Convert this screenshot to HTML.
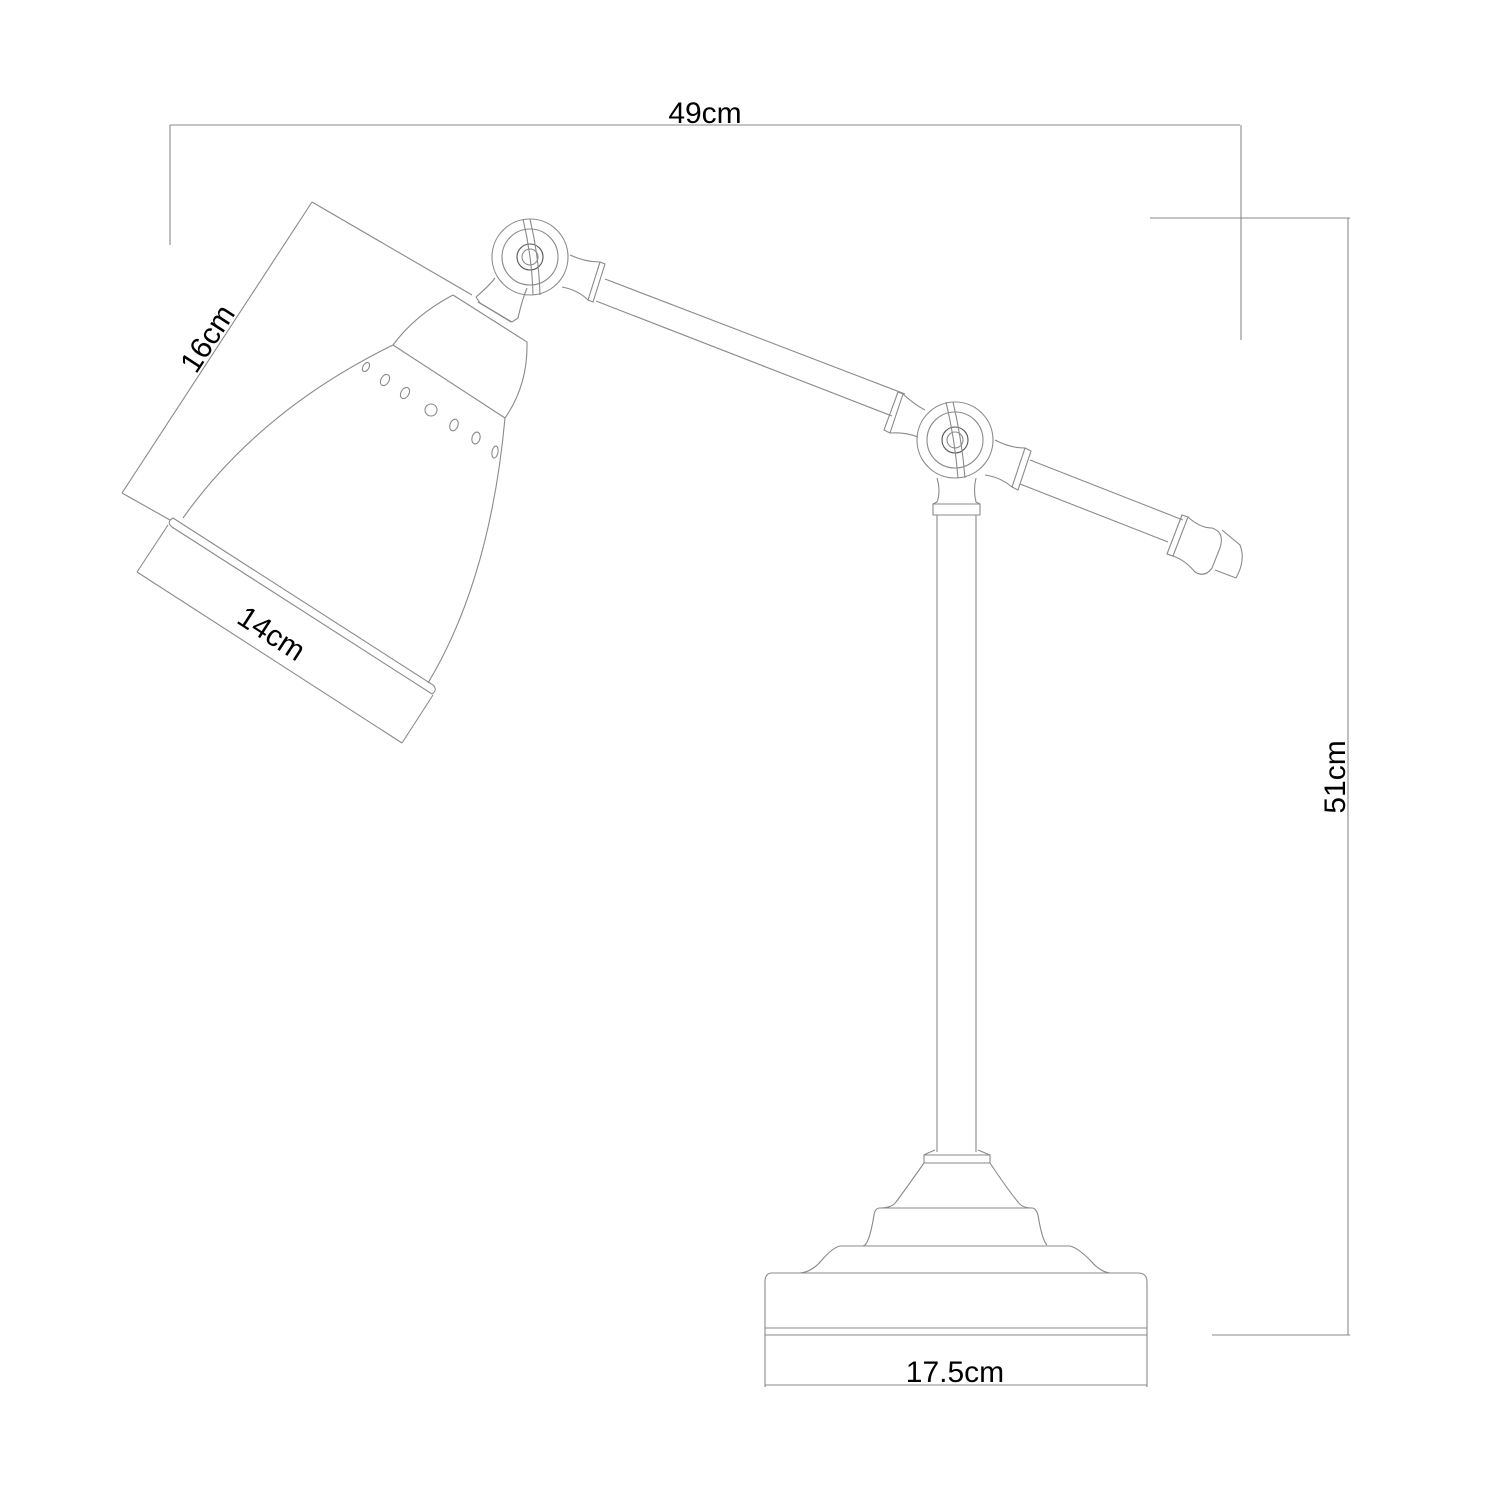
<!DOCTYPE html>
<html><head><meta charset="utf-8"><style>html,body{margin:0;padding:0;background:#fff}svg{display:block}</style></head>
<body>
<svg width="1500" height="1500" viewBox="0 0 1500 1500" xmlns="http://www.w3.org/2000/svg">
<g fill="none" stroke="#8a8a8a" stroke-width="1.1">
<line x1="170" y1="125" x2="1240" y2="125"/>
<line x1="170" y1="125" x2="170" y2="245"/>
<line x1="1241" y1="125" x2="1241" y2="340"/>
<line x1="1150" y1="218" x2="1350" y2="218"/>
<line x1="1348" y1="218" x2="1348" y2="1335"/>
<line x1="1212" y1="1335" x2="1350" y2="1335"/>
<line x1="765" y1="1385" x2="1147" y2="1385"/>
<line x1="765" y1="1335" x2="765" y2="1387"/>
<line x1="1147" y1="1335" x2="1147" y2="1387"/>
<line x1="312" y1="202" x2="122" y2="493"/>
<line x1="312" y1="202" x2="472" y2="295"/>
<line x1="122" y1="493" x2="170" y2="520"/>
<line x1="137" y1="572" x2="402" y2="743"/>
<line x1="137" y1="572" x2="168" y2="525"/>
<line x1="402" y1="743" x2="433" y2="695"/>

<path d="M453,295 Q415,315 393,345 Q260,410 183,518"/>
<path d="M453,295 L527,342 Q528,385 505,418 Q490,580 428,683"/>
<line x1="393" y1="345" x2="505" y2="418"/>
<path d="M173,518 L433,685 Q438,690 432,694 L172,527 Q166,522 173,518 Z"/>
<ellipse cx="366" cy="367" rx="3" ry="5" transform="rotate(30 366 367)"/>
<ellipse cx="385" cy="380" rx="4" ry="6" transform="rotate(30 385 380)"/>
<ellipse cx="405" cy="393" rx="4" ry="6" transform="rotate(30 405 393)"/>
<ellipse cx="431" cy="410" rx="6" ry="6"/>
<ellipse cx="454" cy="425" rx="4" ry="6" transform="rotate(20 454 425)"/>
<ellipse cx="476" cy="438" rx="4" ry="6" transform="rotate(15 476 438)"/>
<ellipse cx="495" cy="452" rx="3" ry="6" transform="rotate(10 495 452)"/>

<path d="M476,297 L480,303 L512,322 L518,318 Q522,300 527,288"/>
<path d="M476,297 Q490,285 495,278"/>
<line x1="478" y1="302" x2="511" y2="322"/>

<circle cx="530" cy="257" r="38"/>
<circle cx="530" cy="257" r="28"/>
<circle cx="530" cy="257" r="13" stroke="#555"/>
<circle cx="530" cy="257" r="8"/>
<path d="M523,219 Q532,257 533,295"/>
<path d="M530,219 Q539,257 540,295"/>

<path d="M570,255 Q585,262 600,262 L588,300 Q578,290 562,287"/>
<path d="M600,262 L605,264 L593,302 L588,300"/>
<line x1="605" y1="279" x2="905" y2="394"/>
<line x1="596" y1="301" x2="892" y2="416"/>
<path d="M898,392 L903,394 L890,433 L884,430 Z"/>
<path d="M903,394 Q915,405 925,410 M890,433 Q905,432 918,437"/>

<circle cx="955" cy="440" r="38"/>
<circle cx="955" cy="440" r="28"/>
<circle cx="955" cy="440" r="13" stroke="#555"/>
<circle cx="955" cy="440" r="8"/>
<path d="M946,402 Q955,440 958,478"/>
<path d="M953,402 Q962,440 965,478"/>

<path d="M995,440 Q1010,448 1025,448 L1012,487 Q1000,477 985,475"/>
<path d="M1025,448 L1031,451 L1018,490 L1012,487"/>
<line x1="1030" y1="460" x2="1183" y2="520"/>
<line x1="1020" y1="484" x2="1168" y2="542"/>
<path d="M1182,515 L1188,517 L1173,556 L1167,554 Z"/>
<path d="M1188,517 Q1200,528 1212,528 Q1225,532 1220,548 L1212,568 Q1205,578 1195,572 Q1185,560 1173,556"/>
<path d="M1222,530 L1240,545 Q1246,560 1236,578 L1215,570"/>

<path d="M937,478 Q941,492 937,502 L933,504 L933,515 L980,515 L980,504 L976,502 Q973,490 976,478"/>
<line x1="933" y1="504" x2="980" y2="504"/>
<line x1="937" y1="515" x2="937" y2="1152"/>
<line x1="976" y1="515" x2="976" y2="1152"/>

<path d="M935,1150 L928,1153 L924,1155 L924,1163 L990,1163 L990,1155 L978,1150"/>
<line x1="924" y1="1155" x2="990" y2="1155"/>
<path d="M924,1163 Q905,1190 896,1202 Q892,1208 880,1208"/>
<path d="M990,1163 Q1008,1190 1018,1202 Q1022,1208 1032,1208"/>
<path d="M880,1208 Q875,1208 874,1215 Q870,1240 865,1245 L863,1246"/>
<path d="M1032,1208 Q1036,1208 1038,1215 Q1042,1240 1047,1245"/>
<line x1="880" y1="1208" x2="1032" y2="1208"/>
<line x1="863" y1="1246" x2="1047" y2="1246"/>
<path d="M863,1246 L840,1246 Q832,1248 822,1260 Q812,1272 800,1273"/>
<path d="M1047,1246 L1070,1246 Q1078,1248 1090,1260 Q1100,1272 1110,1273"/>
<path d="M800,1273 L772,1273 Q765,1273 765,1282 L765,1335 M1110,1273 L1138,1273 Q1147,1273 1147,1282 L1147,1335"/>
<line x1="800" y1="1273" x2="1110" y2="1273"/>
<line x1="765" y1="1328" x2="1147" y2="1328"/>
<line x1="765" y1="1335" x2="1147" y2="1335"/>
</g>
<g font-family="Liberation Sans, sans-serif" font-size="30" fill="#000" text-anchor="middle">
<text x="705" y="123">49cm</text>
<text x="955" y="1382">17.5cm</text>
<text x="0" y="0" transform="translate(1345,777) rotate(-90)">51cm</text>
<text x="0" y="0" transform="translate(216,344) rotate(-57)">16cm</text>
<text x="0" y="0" transform="translate(266,642) rotate(33)">14cm</text>
</g>
</svg>
</body></html>
